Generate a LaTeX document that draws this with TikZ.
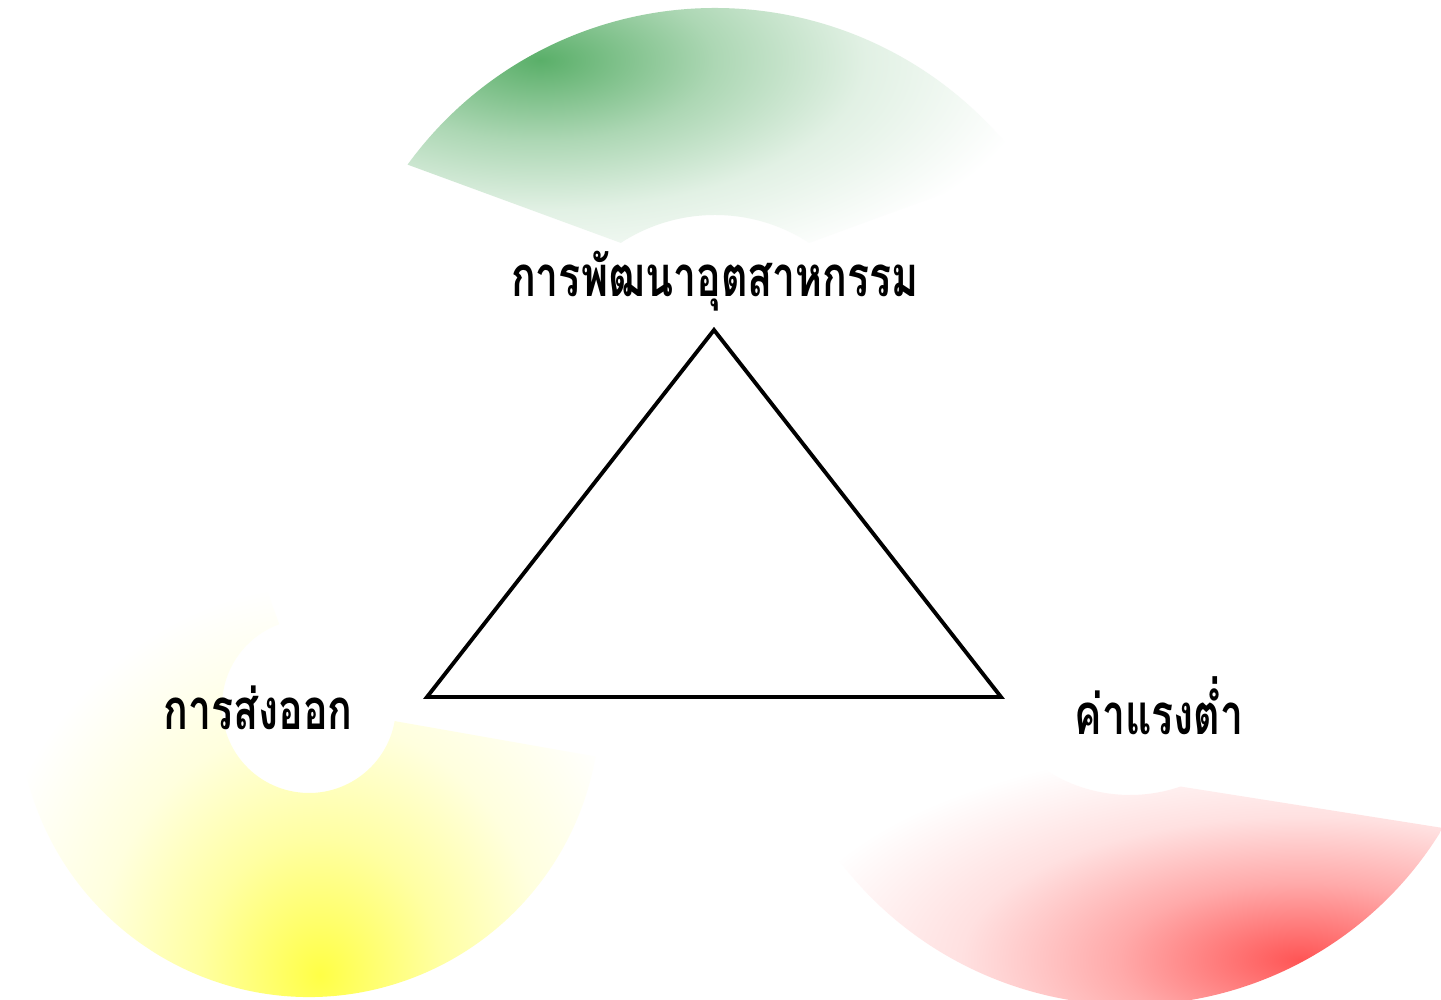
\documentclass[tikz,border=0pt]{standalone}
\usepackage{fontspec}
\newfontfamily\thaifont[Script=Thai, FakeStretch=0.73]{Loma}
\usepackage{xcolor}
\usetikzlibrary{calc}

\definecolor{growth}{RGB}{90,175,105}
\definecolor{export}{RGB}{255,255,70}
\definecolor{wage}{RGB}{255,85,85}

\pgfdeclareradialshading{greenglow}{\pgfpoint{0bp}{0bp}}{%
  color(0bp)=(growth); color(8.75bp)=(growth!50!white); color(16.25bp)=(growth!18!white);
  color(25bp)=(white); color(50bp)=(white)}
\pgfdeclareradialshading{yellowglow}{\pgfpoint{0bp}{0bp}}{%
  color(0bp)=(export); color(8.75bp)=(export!50!white); color(16.25bp)=(export!18!white);
  color(25bp)=(white); color(50bp)=(white)}
\pgfdeclareradialshading{redglow}{\pgfpoint{0bp}{0bp}}{%
  color(0bp)=(wage); color(8.75bp)=(wage!50!white); color(16.25bp)=(wage!18!white);
  color(25bp)=(white); color(50bp)=(white)}

\begin{document}
\begin{tikzpicture}[
  x=0.01cm, y=0.01cm,
  lbl/.style={font=\thaifont\bfseries\fontsize{16}{19}\selectfont, anchor=base, inner sep=0pt},
  tri/.style={draw=black, line width=1.1pt}
]
\clip (0,0) rectangle (1441,1000);
\fill[white] (0,0) rectangle (1441,1000);
% --- ring centres ---
\coordinate (gc) at (715,612);
\coordinate (yc) at (309,294);
\coordinate (rc) at (1130,360);
% --- green block (top) ---
\begin{scope}
\clip ($(gc)+(144:380)$) arc[start angle=144, end angle=36, radius=380]
      -- ($(gc)+(57:173)$) arc[start angle=57, end angle=123, radius=173] -- cycle;
\shade[shading=greenglow] (540,940) ellipse[x radius=500, y radius=230];
\end{scope}
% --- yellow block (left) ---
\begin{scope}
\clip ($(yc)+(110:291)$) arc[start angle=110, end angle=350, radius=291]
      -- ($(yc)+(350:87)$) arc[start angle=350, end angle=110, radius=87] -- cycle;
\shade[shading=yellowglow] (320,25) ellipse[x radius=345, y radius=390];
\end{scope}
% --- red block (right) ---
\begin{scope}
\clip ($(rc)+(202:365)$) arc[start angle=202, end angle=329, radius=365]
      -- ($(rc)+(289:155)$) arc[start angle=289, end angle=231, radius=155] -- cycle;
\shade[shading=redglow] (1300,40) ellipse[x radius=520, y radius=220];
\end{scope}
% --- labels ---
\node[lbl] (ind) at (715,703)  {การพัฒนาอุตสาหกรรม};
\node[lbl] (exp) at (258,270)  {การส่งออก};
\node[lbl] (low) at (1159,265) {ค่าแรงต่ำ};
% --- triangle ---
\coordinate (top) at (714,670);
\coordinate (bl)  at (427,303);
\coordinate (br)  at (1001,303);
\draw[tri] (top) -- (bl) -- (br) -- cycle;
\end{tikzpicture}
\end{document}
